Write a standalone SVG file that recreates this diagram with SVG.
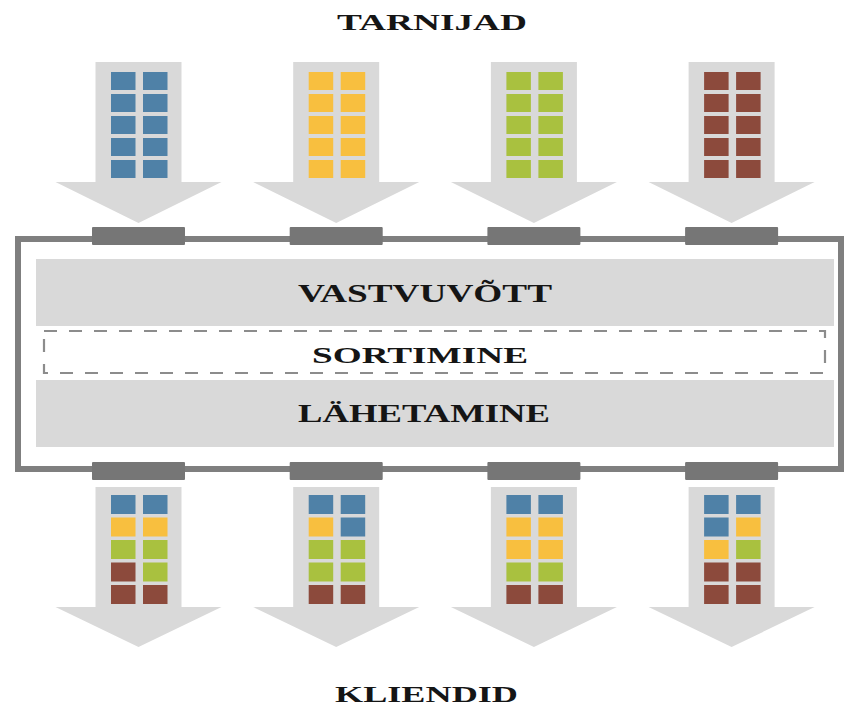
<svg xmlns="http://www.w3.org/2000/svg" xmlns:xlink="http://www.w3.org/1999/xlink" width="845" height="709" viewBox="0 0 845 709">
<style>
.arrow{fill:#d9d9d9}
.blk{fill:#767676}
.band{fill:#d9d9d9}
.frame{fill:none;stroke:#7f7f7f;stroke-width:6}
.dash{fill:none;stroke:#8c8c8c;stroke-width:2.2;stroke-dasharray:13 12}
.b{fill:#4f81a7}
.y{fill:#f8bf3f}
.g{fill:#a9c13f}
.r{fill:#8c4a3c}
.t{font-family:"Liberation Serif","Times New Roman",serif;font-weight:bold;fill:#151515}
</style>
<defs>
<polygon id="topArrow" points="-43,62 43,62 43,182 83,182 0,223 -83,182 -43,182"/>
<polygon id="botArrow" points="-43,487 43,487 43,607 83,607 0,647 -83,607 -43,607"/>
</defs>

<text class="t" x="337" y="30" font-size="24" textLength="190" lengthAdjust="spacingAndGlyphs">TARNIJAD</text>

<g id="supplier1" transform="translate(138.5,0)">
<use href="#topArrow" class="arrow"/>
<rect class="b" x="-27.5" y="72" width="24.5" height="18"/><rect class="b" x="4.5" y="72" width="24.5" height="18"/>
<rect class="b" x="-27.5" y="94" width="24.5" height="18"/><rect class="b" x="4.5" y="94" width="24.5" height="18"/>
<rect class="b" x="-27.5" y="116" width="24.5" height="18"/><rect class="b" x="4.5" y="116" width="24.5" height="18"/>
<rect class="b" x="-27.5" y="138" width="24.5" height="18"/><rect class="b" x="4.5" y="138" width="24.5" height="18"/>
<rect class="b" x="-27.5" y="160" width="24.5" height="18"/><rect class="b" x="4.5" y="160" width="24.5" height="18"/>
</g>
<g id="supplier2" transform="translate(336.2,0)">
<use href="#topArrow" class="arrow"/>
<rect class="y" x="-27.5" y="72" width="24.5" height="18"/><rect class="y" x="4.5" y="72" width="24.5" height="18"/>
<rect class="y" x="-27.5" y="94" width="24.5" height="18"/><rect class="y" x="4.5" y="94" width="24.5" height="18"/>
<rect class="y" x="-27.5" y="116" width="24.5" height="18"/><rect class="y" x="4.5" y="116" width="24.5" height="18"/>
<rect class="y" x="-27.5" y="138" width="24.5" height="18"/><rect class="y" x="4.5" y="138" width="24.5" height="18"/>
<rect class="y" x="-27.5" y="160" width="24.5" height="18"/><rect class="y" x="4.5" y="160" width="24.5" height="18"/>
</g>
<g id="supplier3" transform="translate(533.9,0)">
<use href="#topArrow" class="arrow"/>
<rect class="g" x="-27.5" y="72" width="24.5" height="18"/><rect class="g" x="4.5" y="72" width="24.5" height="18"/>
<rect class="g" x="-27.5" y="94" width="24.5" height="18"/><rect class="g" x="4.5" y="94" width="24.5" height="18"/>
<rect class="g" x="-27.5" y="116" width="24.5" height="18"/><rect class="g" x="4.5" y="116" width="24.5" height="18"/>
<rect class="g" x="-27.5" y="138" width="24.5" height="18"/><rect class="g" x="4.5" y="138" width="24.5" height="18"/>
<rect class="g" x="-27.5" y="160" width="24.5" height="18"/><rect class="g" x="4.5" y="160" width="24.5" height="18"/>
</g>
<g id="supplier4" transform="translate(731.6,0)">
<use href="#topArrow" class="arrow"/>
<rect class="r" x="-27.5" y="72" width="24.5" height="18"/><rect class="r" x="4.5" y="72" width="24.5" height="18"/>
<rect class="r" x="-27.5" y="94" width="24.5" height="18"/><rect class="r" x="4.5" y="94" width="24.5" height="18"/>
<rect class="r" x="-27.5" y="116" width="24.5" height="18"/><rect class="r" x="4.5" y="116" width="24.5" height="18"/>
<rect class="r" x="-27.5" y="138" width="24.5" height="18"/><rect class="r" x="4.5" y="138" width="24.5" height="18"/>
<rect class="r" x="-27.5" y="160" width="24.5" height="18"/><rect class="r" x="4.5" y="160" width="24.5" height="18"/>
</g>

<g id="warehouse">
<rect class="frame" x="18" y="239" width="823" height="230"/>
<rect class="band" x="36" y="259" width="798" height="67"/>
<rect class="band" x="36" y="380" width="798" height="67"/>
<rect class="dash" x="44" y="331" width="781" height="42"/>
<text class="t" x="298" y="302" font-size="26" textLength="254" lengthAdjust="spacingAndGlyphs">VASTVUVÕTT</text>
<text class="t" x="312" y="363" font-size="23" textLength="216" lengthAdjust="spacingAndGlyphs">SORTIMINE</text>
<text class="t" x="298" y="422" font-size="26" textLength="252" lengthAdjust="spacingAndGlyphs">LÄHETAMINE</text>
</g>

<g id="connectors">
<rect class="blk" x="92" y="227" width="93" height="18" rx="1"/>
<rect class="blk" x="289.7" y="227" width="93" height="18" rx="1"/>
<rect class="blk" x="487.4" y="227" width="93" height="18" rx="1"/>
<rect class="blk" x="685.1" y="227" width="93" height="18" rx="1"/>
<rect class="blk" x="92" y="462" width="93" height="18" rx="1"/>
<rect class="blk" x="289.7" y="462" width="93" height="18" rx="1"/>
<rect class="blk" x="487.4" y="462" width="93" height="18" rx="1"/>
<rect class="blk" x="685.1" y="462" width="93" height="18" rx="1"/>
</g>

<g id="customer1" transform="translate(138.5,0)">
<use href="#botArrow" class="arrow"/>
<rect class="b" x="-27.5" y="495" width="24.5" height="19"/><rect class="b" x="4.5" y="495" width="24.5" height="19"/>
<rect class="y" x="-27.5" y="517.5" width="24.5" height="19"/><rect class="y" x="4.5" y="517.5" width="24.5" height="19"/>
<rect class="g" x="-27.5" y="540" width="24.5" height="19"/><rect class="g" x="4.5" y="540" width="24.5" height="19"/>
<rect class="r" x="-27.5" y="562.5" width="24.5" height="19"/><rect class="g" x="4.5" y="562.5" width="24.5" height="19"/>
<rect class="r" x="-27.5" y="585" width="24.5" height="19"/><rect class="r" x="4.5" y="585" width="24.5" height="19"/>
</g>
<g id="customer2" transform="translate(336.2,0)">
<use href="#botArrow" class="arrow"/>
<rect class="b" x="-27.5" y="495" width="24.5" height="19"/><rect class="b" x="4.5" y="495" width="24.5" height="19"/>
<rect class="y" x="-27.5" y="517.5" width="24.5" height="19"/><rect class="b" x="4.5" y="517.5" width="24.5" height="19"/>
<rect class="g" x="-27.5" y="540" width="24.5" height="19"/><rect class="g" x="4.5" y="540" width="24.5" height="19"/>
<rect class="g" x="-27.5" y="562.5" width="24.5" height="19"/><rect class="g" x="4.5" y="562.5" width="24.5" height="19"/>
<rect class="r" x="-27.5" y="585" width="24.5" height="19"/><rect class="r" x="4.5" y="585" width="24.5" height="19"/>
</g>
<g id="customer3" transform="translate(533.9,0)">
<use href="#botArrow" class="arrow"/>
<rect class="b" x="-27.5" y="495" width="24.5" height="19"/><rect class="b" x="4.5" y="495" width="24.5" height="19"/>
<rect class="y" x="-27.5" y="517.5" width="24.5" height="19"/><rect class="y" x="4.5" y="517.5" width="24.5" height="19"/>
<rect class="y" x="-27.5" y="540" width="24.5" height="19"/><rect class="y" x="4.5" y="540" width="24.5" height="19"/>
<rect class="g" x="-27.5" y="562.5" width="24.5" height="19"/><rect class="g" x="4.5" y="562.5" width="24.5" height="19"/>
<rect class="r" x="-27.5" y="585" width="24.5" height="19"/><rect class="r" x="4.5" y="585" width="24.5" height="19"/>
</g>
<g id="customer4" transform="translate(731.6,0)">
<use href="#botArrow" class="arrow"/>
<rect class="b" x="-27.5" y="495" width="24.5" height="19"/><rect class="b" x="4.5" y="495" width="24.5" height="19"/>
<rect class="b" x="-27.5" y="517.5" width="24.5" height="19"/><rect class="y" x="4.5" y="517.5" width="24.5" height="19"/>
<rect class="y" x="-27.5" y="540" width="24.5" height="19"/><rect class="g" x="4.5" y="540" width="24.5" height="19"/>
<rect class="r" x="-27.5" y="562.5" width="24.5" height="19"/><rect class="r" x="4.5" y="562.5" width="24.5" height="19"/>
<rect class="r" x="-27.5" y="585" width="24.5" height="19"/><rect class="r" x="4.5" y="585" width="24.5" height="19"/>
</g>

<text class="t" x="335" y="702" font-size="23" textLength="183" lengthAdjust="spacingAndGlyphs">KLIENDID</text>
</svg>
